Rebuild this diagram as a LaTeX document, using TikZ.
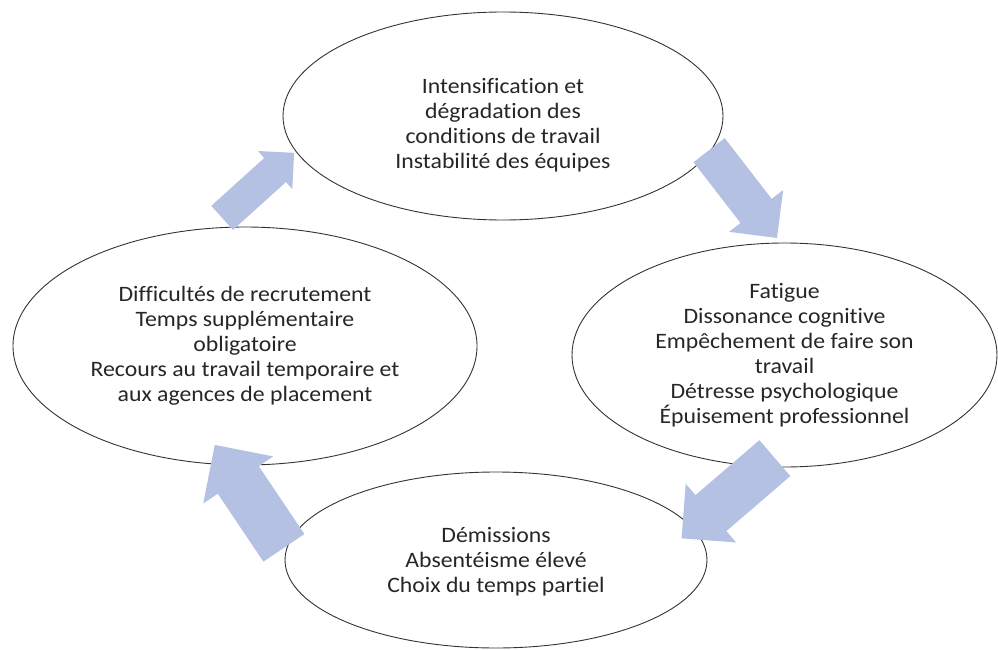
\documentclass[tikz,border=0pt]{standalone}
\usepackage{fontspec}
\setmainfont{Carlito}[FakeStretch = 1.08, Ligatures = NoCommon]
\usetikzlibrary{shapes.geometric}
\usetikzlibrary{shapes.arrows}
\definecolor{arrowblue}{RGB}{180,193,226}

\begin{document}
\begin{tikzpicture}[x = 1pt, y = -1pt, font=\fontsize{22}{25}\selectfont]
	\tikzstyle{ellipseStyle}=[shape = ellipse, draw = black!80, line width = 0.9pt, align = center, inner sep = 0pt, text = black!85]
	\tikzstyle{textStyle}=[align = center, inner sep = 0pt, text = black!85]
	\tikzstyle{arrowStyle}=[shape = single arrow, fill = arrowblue, draw = none, inner xsep = 0pt, anchor = tail, single arrow head indent = 0pt]
	\useasboundingbox (0,0) rectangle (998,650);
	\node[ellipseStyle, minimum width = 440pt, minimum height = 208pt] (travail) at (503,116) {};
	\node[textStyle] (travailText) at (503,125) {Intensification et\\dégradation des\\conditions de travail\\Instabilité des équipes};
	\node[ellipseStyle, minimum width = 425pt, minimum height = 224pt] (fatigue) at (784.5,355) {Fatigue\\Dissonance cognitive\\Empêchement de faire son\\travail\\Détresse psychologique\\Épuisement professionnel};
	\node[ellipseStyle, minimum width = 422pt, minimum height = 176pt] (demissions) at (496,560) {};
	\node[textStyle] (demissionsText) at (496,562) {Démissions\\Absentéisme élevé\\Choix du temps partiel};
	\node[ellipseStyle, minimum width = 464pt, minimum height = 238pt] (recrutement) at (245,346) {Difficultés de recrutement\\Temps supplémentaire\\obligatoire\\Recours au travail temporaire et\\aux agences de placement};
	\node[arrowStyle, rotate = 42.1, minimum height = 97pt, minimum width = 51pt, inner ysep = 16pt, single arrow head extend = 9.5pt] (a1) at (222,218) {};
	\node[arrowStyle, rotate = -52.3, minimum height = 111pt, minimum width = 68pt, inner ysep = 19.5pt, single arrow head extend = 14.5pt] (a2) at (709,150) {};
	\node[arrowStyle, rotate = 220.7, minimum height = 123pt, minimum width = 77pt, inner ysep = 23.5pt, single arrow head extend = 15pt] (a3) at (775,458) {};
	\node[arrowStyle, rotate = 123.9, minimum height = 124pt, minimum width = 84pt, inner ysep = 24.5pt, single arrow head extend = 17.5pt] (a4) at (284,548) {};
\end{tikzpicture}
\end{document}
